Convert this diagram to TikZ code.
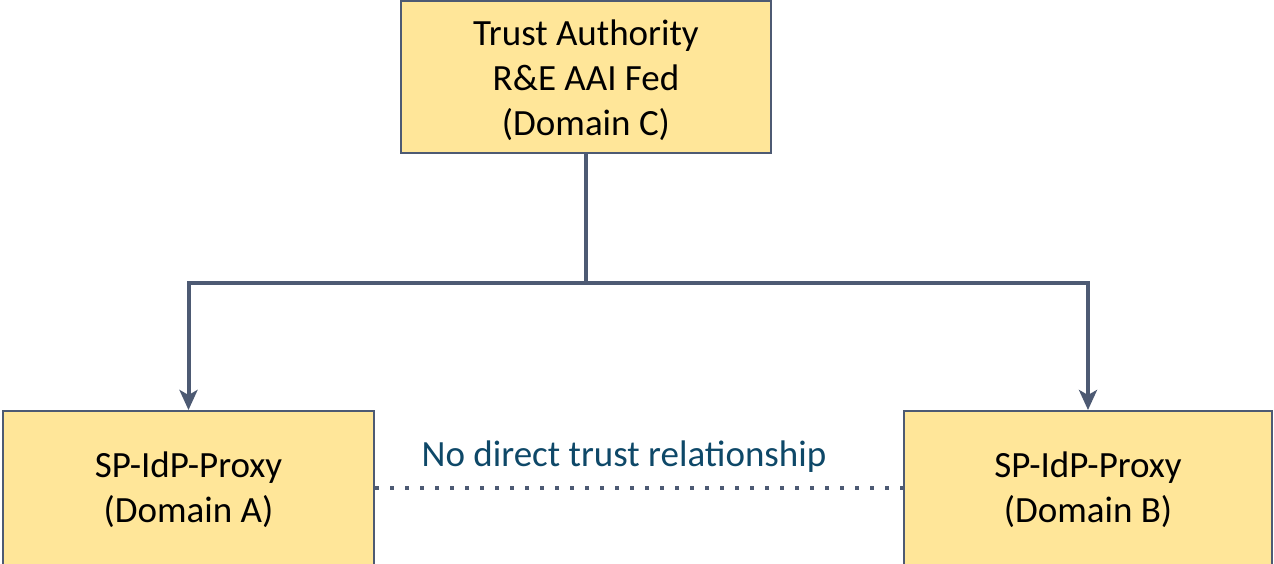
\documentclass[tikz,border=0pt]{standalone}
\usepackage{fontspec}
\setmainfont{Carlito}
\usetikzlibrary{arrows.meta}
\definecolor{boxfill}{RGB}{255,230,153}
\definecolor{boxline}{RGB}{77,90,115}
\definecolor{labeltext}{RGB}{14,72,104}
\begin{document}
\begin{tikzpicture}[x=0.5pt, y=-0.5pt,
  main/.style = {draw=boxline, fill=boxfill, line width=1pt, align=center,
    font=\fontsize{18.5}{22.5}\selectfont, inner sep=0pt},
  link/.style = {draw=boxline, line width=2pt},
  arrow/.style = {link, -{Stealth[length=10pt, width=9pt, inset=2.5pt]}}]
\useasboundingbox (0,0) rectangle (1274,563);
\node[main, minimum width=185pt, minimum height=76pt] (ta) at (586,77) {};
\node[main, minimum width=185.5pt, minimum height=77pt] (pa) at (188.5,488) {};
\node[main, minimum width=184pt, minimum height=77pt] (pb) at (1088,488) {};
% texts sit a little lower than the box centres
\node[align=center, font=\fontsize{18.5}{22.5}\selectfont] (tatext) at (586,80) {Trust Authority\\R\&E AAI Fed\\(Domain C)};
\node[align=center, font=\fontsize{18.5}{22.5}\selectfont] (patext) at (188.5,490) {SP-IdP-Proxy\\(Domain A)};
\node[align=center, font=\fontsize{18.5}{22.5}\selectfont] (pbtext) at (1088,490) {SP-IdP-Proxy\\(Domain B)};
\coordinate (split) at (586,283);
\draw[link] (ta.south) -- (split);
\draw[arrow] (split) -| (pa.north);
\draw[arrow] (split) -| (pb.north);
\draw[boxline, line width=2pt, dash pattern=on 2pt off 5.5pt] (pa.east) -- (pb.west);
\node[text=labeltext, font=\fontsize{18.5}{22.5}\selectfont] (norel) at (624,457) {No direct trust relationship};
\end{tikzpicture}
\end{document}
